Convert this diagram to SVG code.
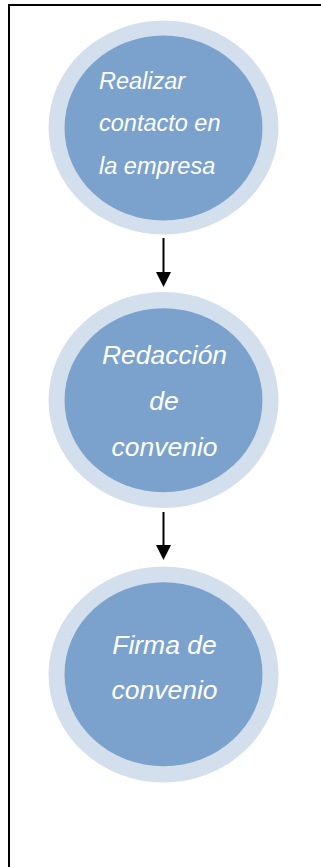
<svg xmlns="http://www.w3.org/2000/svg" width="321" height="867" viewBox="0 0 321 867">
<style>
.outer{fill:#D4DFEE}
.inner{fill:#7BA2CC}
.lbl{font-family:"Liberation Sans",Arial,sans-serif;font-style:italic;fill:#FFFFFF}
.n1{font-size:23.5px}
.n2{font-size:26.5px;text-anchor:middle}
.conn{stroke:#000;stroke-width:2;fill:none}
</style>
<rect width="321" height="867" fill="#FFFFFF"/>
<path d="M9,867 L9,5 L321,5" fill="none" stroke="#000" stroke-width="2"/>
<g id="connectors">
<line class="conn" x1="163.5" y1="238" x2="163.5" y2="273"/>
<path d="M156,272 L171,272 L163.5,287 Z" fill="#000"/>
<line class="conn" x1="163.5" y1="512" x2="163.5" y2="546"/>
<path d="M156,545 L171,545 L163.5,560 Z" fill="#000"/>
</g>
<g id="node1">
<ellipse class="outer" cx="163.5" cy="127.5" rx="115" ry="107"/>
<ellipse class="inner" cx="163.5" cy="128" rx="99" ry="92.5"/>
<text class="lbl n1" x="99" y="88.5">Realizar</text>
<text class="lbl n1" x="99" y="131">contacto en</text>
<text class="lbl n1" x="99" y="173.5">la empresa</text>
</g>
<g id="node2">
<ellipse class="outer" cx="163.5" cy="400" rx="115" ry="108"/>
<ellipse class="inner" cx="163.5" cy="400.3" rx="99" ry="92"/>
<text class="lbl n2" x="164.5" y="363.5">Redacción</text>
<text class="lbl n2" x="164" y="410">de</text>
<text class="lbl n2" x="164.5" y="455.5">convenio</text>
</g>
<g id="node3">
<ellipse class="outer" cx="163.5" cy="674.5" rx="115" ry="108"/>
<ellipse class="inner" cx="163.5" cy="674.2" rx="99" ry="92"/>
<text class="lbl n2" x="164.5" y="653.5">Firma de</text>
<text class="lbl n2" x="164.5" y="699">convenio</text>
</g>
</svg>
